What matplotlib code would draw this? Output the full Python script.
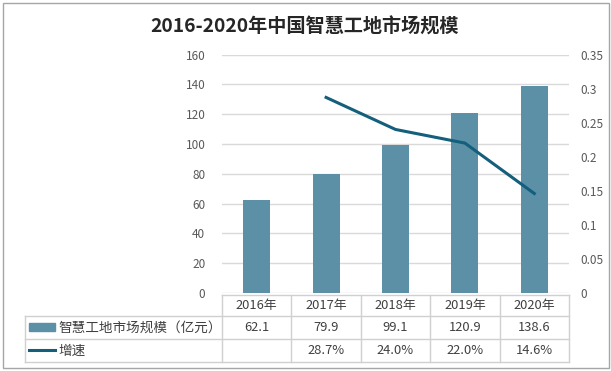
import matplotlib
matplotlib.use("Agg")
import matplotlib.pyplot as plt
from matplotlib.patches import Rectangle
from matplotlib.lines import Line2D

plt.rcParams['font.family'] = ['Noto Sans CJK SC', 'DejaVu Sans']

years = ['2016年', '2017年', '2018年', '2019年', '2020年']
market = [62.1, 79.9, 99.1, 120.9, 138.6]
growth = [None, 0.287, 0.240, 0.220, 0.146]
market_labels = ['62.1', '79.9', '99.1', '120.9', '138.6']
growth_labels = ['', '28.7%', '24.0%', '22.0%', '14.6%']
bar_name = '智慧工地市场规模（亿元）'
line_name = '增速'
title = '2016-2020年中国智慧工地市场规模'

bar_color = '#5b90a7'
line_color = '#145f7c'
grid_color = '#d9d9d9'
text_color = '#595959'

W, H = 611, 371
fig = plt.figure(figsize=(W / 100, H / 100), dpi=100)

# axes area in pixels
x0, x1 = 222, 569
y_top, y_bot = 54.5, 293
ax = fig.add_axes([x0 / W, 1 - y_bot / H, (x1 - x0) / W, (y_bot - y_top) / H])
xs = list(range(len(years)))
ax.bar(xs, market, width=0.39, color=bar_color, zorder=2)
ax.set_xlim(-0.5, len(years) - 0.5)
ax.set_ylim(0, 160)
ax.set_yticks(range(0, 161, 20))
ax.set_xticks([])
ax.grid(axis='y', color=grid_color, linewidth=1, zorder=0)
for s in ax.spines.values():
    s.set_visible(False)
ax.tick_params(axis='y', length=0, pad=12, labelsize=8.5, labelcolor=text_color)

ax2 = ax.twinx()
gx = [x for x, g in zip(xs, growth) if g is not None]
gy = [g for g in growth if g is not None]
ax2.plot(gx, gy, color=line_color, linewidth=2.2, zorder=3)
ax2.set_ylim(0, 0.35)
ax2.set_yticks([0, 0.05, 0.1, 0.15, 0.2, 0.25, 0.3, 0.35])
ax2.set_yticklabels(['0', '0.05', '0.1', '0.15', '0.2', '0.25', '0.3', '0.35'])
for s in ax2.spines.values():
    s.set_visible(False)
ax2.tick_params(axis='y', length=0, pad=8, labelsize=8.5, labelcolor=text_color)

# overlay in pixel coordinates for table and border
ov = fig.add_axes([0, 0, 1, 1], facecolor='none')
ov.set_xlim(0, W)
ov.set_ylim(H, 0)
ov.axis('off')

ov.add_patch(Rectangle((2.5, 2.5), W - 5, H - 6, fill=False, edgecolor='#a6a6a6', linewidth=1))
ov.text(W / 2 - 1, 27, title, ha='center', va='center', fontsize=13.8, fontweight='bold', color='#262626')

col_w = (x1 - x0) / len(years)
tl = 25
rows = [295, 316, 339, 362]
lc = '#d0d0d0'
ov.add_line(Line2D([x0, x1], [rows[0], rows[0]], color=lc, linewidth=1))
for r in rows[1:]:
    ov.add_line(Line2D([tl, x1], [r, r], color=lc, linewidth=1))
ov.add_line(Line2D([tl, tl], [rows[1], rows[3]], color=lc, linewidth=1))
for i in range(len(years) + 1):
    xv = x0 + i * col_w
    ov.add_line(Line2D([xv, xv], [rows[0], rows[3]], color=lc, linewidth=1))

fs = 9.3
for i, y in enumerate(years):
    cx = x0 + (i + 0.5) * col_w
    ov.text(cx, (rows[0] + rows[1]) / 2, y, ha='center', va='center', fontsize=fs, color='#404040')
    ov.text(cx, (rows[1] + rows[2]) / 2, market_labels[i], ha='center', va='center', fontsize=fs, color='#404040')
    ov.text(cx, (rows[2] + rows[3]) / 2, growth_labels[i], ha='center', va='center', fontsize=fs, color='#404040')

ov.add_patch(Rectangle((29, 323), 26, 8, color=bar_color))
ov.text(58, (rows[1] + rows[2]) / 2, bar_name, ha='left', va='center', fontsize=9.8, color='#404040')
ov.add_line(Line2D([29, 55], [350, 350], color=line_color, linewidth=2.2))
ov.text(58, (rows[2] + rows[3]) / 2, line_name, ha='left', va='center', fontsize=9.8, color='#404040')

fig.savefig('out.png', dpi=100)
